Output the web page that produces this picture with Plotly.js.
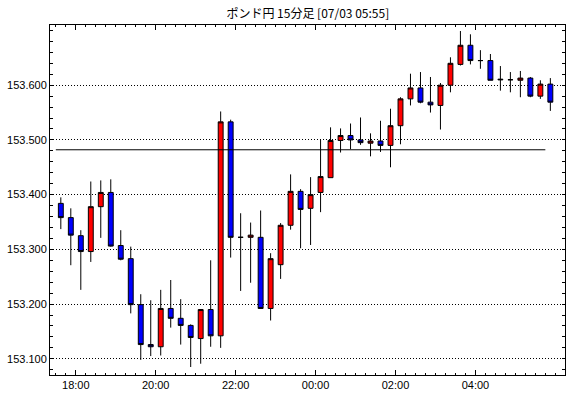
<!DOCTYPE html>
<html>
<head>
<meta charset="utf-8">
<script src="https://cdn.plot.ly/plotly-3.0.1.min.js"></script>
<style>
html,body{margin:0;padding:0;background:#fff;}
#chart{width:570px;height:398px;}
</style>
</head>
<body>
<div id="chart"></div>
<script>
// 15-minute bar start times (07/02 evening to 07/03 morning)
const times = [
  "2024-07-02 17:30","2024-07-02 17:45","2024-07-02 18:00","2024-07-02 18:15","2024-07-02 18:30",
  "2024-07-02 18:45","2024-07-02 19:00","2024-07-02 19:15","2024-07-02 19:30","2024-07-02 19:45",
  "2024-07-02 20:00","2024-07-02 20:15","2024-07-02 20:30","2024-07-02 20:45","2024-07-02 21:00",
  "2024-07-02 21:15","2024-07-02 21:30","2024-07-02 21:45","2024-07-02 22:00","2024-07-02 22:15",
  "2024-07-02 22:30","2024-07-02 22:45","2024-07-02 23:00","2024-07-02 23:15","2024-07-02 23:30",
  "2024-07-02 23:45","2024-07-03 00:00","2024-07-03 00:15","2024-07-03 00:30","2024-07-03 00:45",
  "2024-07-03 01:00","2024-07-03 01:15","2024-07-03 01:30","2024-07-03 01:45","2024-07-03 02:00",
  "2024-07-03 02:15","2024-07-03 02:30","2024-07-03 02:45","2024-07-03 03:00","2024-07-03 03:15",
  "2024-07-03 03:30","2024-07-03 03:45","2024-07-03 04:00","2024-07-03 04:15","2024-07-03 04:30",
  "2024-07-03 04:45","2024-07-03 05:00","2024-07-03 05:15","2024-07-03 05:30","2024-07-03 05:45"
];
const openP = [
  153.384,153.358,153.325,153.296,153.378,153.404,153.307,153.283,153.199,153.126,
  153.122,153.192,153.174,153.161,153.137,153.190,153.142,153.533,153.322,153.322,
  153.322,153.192,153.272,153.344,153.406,153.375,153.404,153.431,153.499,153.508,
  153.500,153.494,153.498,153.490,153.526,153.575,153.595,153.569,153.563,153.600,
  153.638,153.673,153.645,153.645,153.611,153.610,153.609,153.613,153.580,153.602
];
const highP = [
  153.395,153.375,153.335,153.424,153.426,153.428,153.335,153.305,153.218,153.207,
  153.226,153.244,153.209,153.163,153.191,153.280,153.552,153.537,153.366,153.349,
  153.371,153.293,153.348,153.437,153.410,153.432,153.500,153.523,153.521,153.530,
  153.541,153.512,153.535,153.557,153.578,153.621,153.624,153.615,153.604,153.651,
  153.699,153.693,153.664,153.657,153.635,153.624,153.626,153.615,153.609,153.613
];
const lowP = [
  153.337,153.271,153.226,153.277,153.321,153.305,153.280,153.183,153.098,153.105,
  153.106,153.157,153.126,153.085,153.091,153.122,153.120,153.285,153.224,153.239,
  153.192,153.170,153.246,153.336,153.302,153.308,153.368,153.431,153.477,153.483,
  153.491,153.470,153.478,153.450,153.492,153.563,153.567,153.550,153.519,153.587,
  153.636,153.638,153.630,153.609,153.590,153.587,153.578,153.578,153.575,153.553
];
const closeP = [
  153.358,153.326,153.296,153.378,153.404,153.306,153.282,153.199,153.126,153.122,
  153.192,153.174,153.161,153.139,153.190,153.142,153.533,153.322,153.322,153.326,
  153.192,153.283,153.344,153.406,153.373,153.400,153.433,153.499,153.508,153.500,
  153.495,153.498,153.490,153.526,153.575,153.595,153.569,153.564,153.600,153.640,
  153.673,153.645,153.645,153.609,153.610,153.610,153.613,153.580,153.602,153.569
];
const refLevel = 153.482;
const yTickVals = [153.1,153.2,153.3,153.4,153.5,153.6];
const xTickVals = ["2024-07-02 18:00","2024-07-02 20:00","2024-07-02 22:00","2024-07-03 00:00","2024-07-03 02:00","2024-07-03 04:00"];
const xTickText = ["18:00","20:00","22:00","00:00","02:00","04:00"];
const titleText = "ポンド円 15分足 [07/03 05:55]";

// bars are drawn centred in their 15-minute period
function shift(t, ms){
  const p = t.split(/[- :]/).map(Number);
  const d = new Date(Date.UTC(p[0],p[1]-1,p[2],p[3],p[4],0) + ms);
  return d.toISOString().replace('T',' ').slice(0,19);
}
const xc = times.map(t => shift(t, 7.5*60000));

const trace = {
  type:'candlestick',
  x: xc, open: openP, high: highP, low: lowP, close: closeP,
  increasing:{line:{color:'#000',width:1}, fillcolor:'#ff0000'},
  decreasing:{line:{color:'#000',width:1}, fillcolor:'#0000ff'},
  whiskerwidth:0,
  hoverinfo:'skip',
  showlegend:false
};

const fnt = {family:'"Liberation Sans", Arial, sans-serif', size:11, color:'#000'};

const layout = {
  width:570, height:398,
  margin:{l:50, r:5, t:25, b:23},
  paper_bgcolor:'#fff', plot_bgcolor:'#fff',
  title:{text:titleText, x:0.54, xanchor:'center', y:0.965, yanchor:'middle',
         font:{family:'"Noto Sans CJK JP", sans-serif', size:12, color:'#000'}},
  showlegend:false,
  xaxis:{
    type:'date',
    range:[shift(times[0], -8.75*60000), shift(times[times.length-1], 29.5*60000)],
    rangeslider:{visible:false},
    tickvals:xTickVals, ticktext:xTickText,
    ticks:'inside', ticklen:5, tickcolor:'#000', tickwidth:1,
    showline:true, linecolor:'#000', linewidth:1, mirror:'allticks',
    showgrid:false, zeroline:false,
    tickfont:fnt,
    minor:{dtick:900000, tick0:'2024-07-02 18:00', ticks:'inside', ticklen:2, tickcolor:'#000', showgrid:false}
  },
  yaxis:{
    range:[153.0704, 153.710],
    tickvals:yTickVals, ticktext:yTickVals.map(v=>v.toFixed(3)),
    ticks:'inside', ticklen:3, tickcolor:'#000',
    showline:true, linecolor:'#000', linewidth:1, mirror:'allticks',
    showgrid:true, gridcolor:'#000', gridwidth:1, griddash:'1px,2px',
    zeroline:false, tickfont:fnt,
    minor:{dtick:0.02, tick0:153.1, ticks:'inside', ticklen:3, tickcolor:'#000', showgrid:false}
  },
  shapes:[{
    type:'line', xref:'x', yref:'y',
    x0: times[0], x1: times[times.length-1], y0: refLevel, y1: refLevel,
    line:{color:'#000', width:1}
  }]
};

Plotly.newPlot('chart', [trace], layout, {displayModeBar:false, staticPlot:true});
</script>
</body>
</html>
